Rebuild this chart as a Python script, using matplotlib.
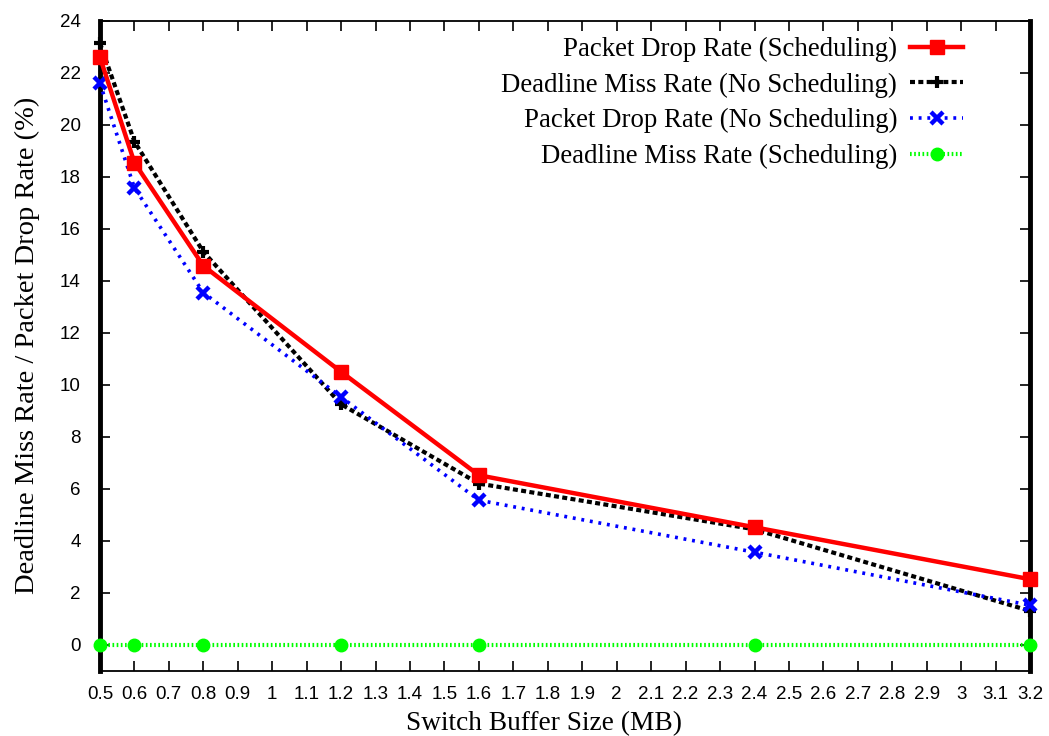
import numpy as np
import matplotlib as mpl
mpl.use("Agg")
from matplotlib import pyplot as plt

buffer_mb = [0.5, 0.6, 0.8, 1.2, 1.6, 2.4, 3.2]
drop_sched = [22.6, 18.55, 14.58, 10.5, 6.52, 4.52, 2.52]
miss_nosched = [23.15, 19.36, 15.12, 9.25, 6.2, 4.44, 1.3]
drop_nosched = [21.6, 17.58, 13.55, 9.53, 5.56, 3.56, 1.52]
miss_sched = [0, 0, 0, 0, 0, 0, 0]

x_ticks = np.round(np.arange(0.5, 3.21, 0.1), 1)
y_ticks = list(range(0, 25, 2))

serif = "Liberation Serif"
sans = "Liberation Sans"

fig = plt.figure(figsize=(10.49, 7.36), dpi=100)
ax = fig.add_axes([0.0953, 0.0887, 0.8867, 0.8828])

ax.plot(buffer_mb, drop_sched, color="#ff0000", linestyle="-", linewidth=3.2,
        marker="s", markersize=10, markerfacecolor="#ff0000",
        label="Packet Drop Rate (Scheduling)", zorder=4, clip_on=False)
ax.plot(buffer_mb, miss_nosched, color="black", linestyle=(0, (1.2, 0.8)), linewidth=3.0,
        marker="+", markersize=8, markeredgewidth=3,
        label="Deadline Miss Rate (No Scheduling)", zorder=3, clip_on=False)
ax.plot(buffer_mb, drop_nosched, color="#0000ff", linestyle=(0, (0.8, 1.6)), linewidth=2.6,
        marker="x", markersize=8, markeredgewidth=3.2,
        label="Packet Drop Rate (No Scheduling)", zorder=3, clip_on=False)
ax.plot(buffer_mb, miss_sched, color="#00ff00", linestyle=(0, (0.4, 0.6)), linewidth=3.0,
        marker="o", markersize=9,
        label="Deadline Miss Rate (Scheduling)", zorder=3, clip_on=False)

ax.set_xlim(0.5, 3.2)
ax.set_ylim(-1, 24)
ax.set_xticks(x_ticks)
ax.set_xticklabels([f"{v:g}" for v in x_ticks])
ax.set_yticks(y_ticks)

ax.tick_params(direction="in", top=True, right=True, length=7, width=1.2,
               labelsize=13.5)
ax.tick_params(axis="x", pad=11)
ax.tick_params(axis="y", pad=14)
for lab in ax.get_xticklabels() + ax.get_yticklabels():
    lab.set_fontfamily(sans)

for side in ["top", "bottom"]:
    ax.spines[side].set_linewidth(1.3)
for side in ["left", "right"]:
    ax.spines[side].set_linewidth(3.5)

ax.set_xlabel("Switch Buffer Size (MB)", fontsize=19.7, family=serif, labelpad=3)
ax.xaxis.set_label_coords(0.477, -0.062, transform=ax.transAxes)
ax.xaxis.label.set_va("top")
ax.set_ylabel("Deadline Miss Rate / Packet Drop Rate (%)", fontsize=20.5, family=serif, labelpad=14)

ax.legend(loc="upper right", bbox_to_anchor=(0.9396, 0.992), frameon=False, markerfirst=False,
          prop={"family": serif, "size": 19.4}, handlelength=1.97, handletextpad=0.48,
          labelspacing=0.39, borderaxespad=0.0, numpoints=1)

plt.savefig("out.png", dpi=100)
